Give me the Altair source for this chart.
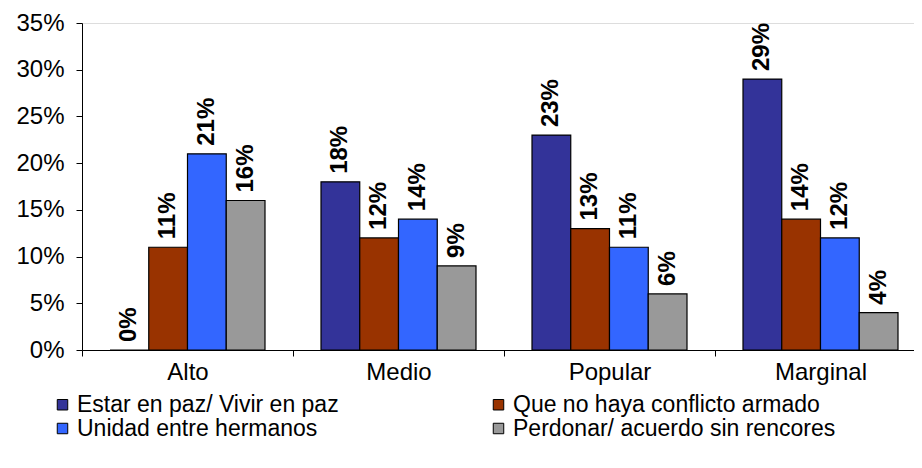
import altair as alt
import pandas as pd

categories = ["Alto", "Medio", "Popular", "Marginal"]
series = [
    "Estar en paz/ Vivir en paz",
    "Que no haya conflicto armado",
    "Unidad entre hermanos",
    "Perdonar/ acuerdo sin rencores",
]
estar = [0, 18, 23, 29]
que_no = [11, 12, 13, 14]
unidad = [21, 14, 11, 12]
perdonar = [16, 9, 6, 4]
colors = ["#333399", "#993300", "#3366FF", "#999999"]
y_ticks = [0, 0.05, 0.10, 0.15, 0.20, 0.25, 0.30, 0.35]

rows = []
for s, vals in zip(series, [estar, que_no, unidad, perdonar]):
    for c, v in zip(categories, vals):
        rows.append({"cat": c, "serie": s, "val": v / 100})
df = pd.DataFrame(rows)

# legend fills column by column: order so that rows read as in the reference
legend_order = [series[0], series[2], series[1], series[3]]
legend_colors = [colors[0], colors[2], colors[1], colors[3]]

FONT = "Liberation Sans"

x_enc = alt.X(
    "cat:N",
    sort=categories,
    title=None,
    scale=alt.Scale(range=[0, 844], paddingInner=0, paddingOuter=0),
    axis=alt.Axis(
        labelAngle=0,
        labelFontSize=24,
        labelFont=FONT,
        labelColor="black",
        labelPadding=4,
        tickBand="extent",
        tickSize=6,
        tickColor="black",
        domainColor="black",
        grid=False,
    ),
)
xo_enc = alt.XOffset(
    "serie:N",
    sort=series,
    scale=alt.Scale(paddingOuter=0.7226, paddingInner=0),
)
y_enc = alt.Y(
    "val:Q",
    title=None,
    scale=alt.Scale(domain=[0, 0.35], nice=False),
    axis=alt.Axis(
        values=y_ticks,
        format=".0%",
        labelFontSize=24,
        labelFont=FONT,
        labelColor="black",
        labelPadding=12,
        tickSize=6,
        tickColor="black",
        domainColor="black",
        grid=False,
    ),
)

bars = alt.Chart(df).mark_bar(stroke="black", strokeWidth=1.2).encode(
    x=x_enc,
    xOffset=xo_enc,
    y=y_enc,
    color=alt.Color(
        "serie:N",
        scale=alt.Scale(domain=legend_order, range=legend_colors),
        legend=alt.Legend(
            title=None,
            orient="none",
            legendX=-31,
            legendY=370,
            padding=0,
            columns=2,
            columnPadding=148,
            rowPadding=0,
            symbolType="square",
            symbolSize=110,
            symbolStrokeColor="black",
            symbolStrokeWidth=1,
            labelFontSize=23,
            labelFont=FONT,
            labelColor="black",
            labelLimit=500,
            labelOffset=3,
        ),
    ),
)

labels = alt.Chart(df).mark_text(
    angle=270,
    align="left",
    baseline="middle",
    dx=8,
    fontSize=24,
    fontWeight="bold",
    font=FONT,
    color="black",
).encode(
    x=alt.X("cat:N", sort=categories),
    xOffset=alt.XOffset("serie:N", sort=series),
    y=alt.Y("val:Q"),
    text=alt.Text("val:Q", format=".0%"),
)

chart = (
    alt.layer(bars, labels)
    .properties(
        width=832,
        height=327,
        autosize=alt.AutoSizeParams(type="none"),
        padding={"left": 74, "top": 15, "right": 0, "bottom": 100},
    )
    .configure_view(stroke=None)
    .configure(background="white")
)

chart.save("out.html", embed_options={"renderer": "svg", "actions": False})
